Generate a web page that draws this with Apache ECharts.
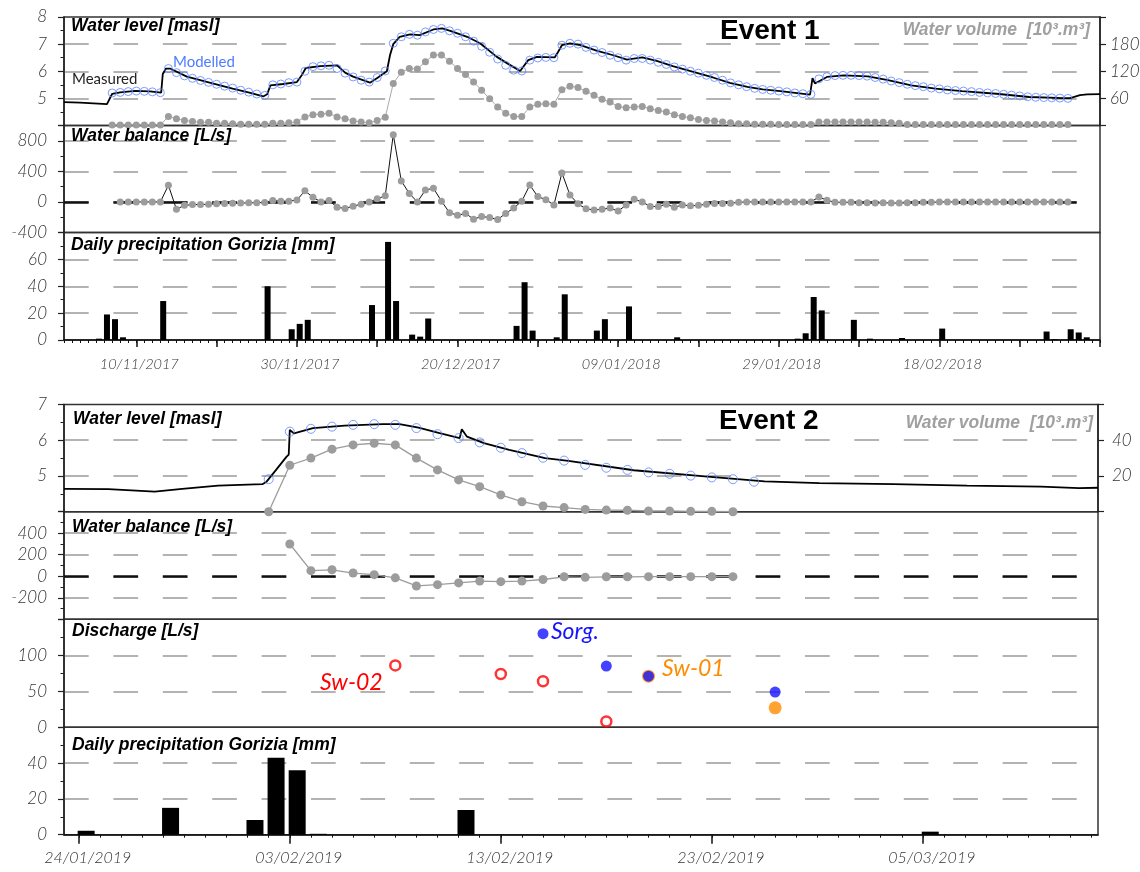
<!DOCTYPE html>
<html>
<head>
<meta charset="utf-8">
<script src="https://cdn.jsdelivr.net/npm/echarts@6/dist/echarts.min.js"></script>
<style>
html,body{margin:0;padding:0;background:#fff;}
#main{width:1140px;height:872px;}
</style>
</head>
<body>
<div id="main"></div>
<script>
// ---------- Event 1 : days counted from 01/11/2017 ----------
var E1_BASE = Date.UTC(2017, 10, 1);
var e1DateLabels = ['10/11/2017', '30/11/2017', '20/12/2017', '09/01/2018', '29/01/2018', '18/02/2018'];

// measured water level (continuous logger)
var e1MeasDay = [0,2,5.35,6.0,7,8.85,10.7,12.1,12.3,12.7,13.2,15.3,18.6,21,23.2,24.8,25.3,25.7,27.3,29,
  29.6,30.1,31.9,34,35,36,38.1,39.1,40.2,40.6,41,41.8,43.1,44.3,46,47.1,48.1,50.2,51.8,53.9,
  55.2,56.8,57.8,58.9,61.1,61.5,62,63,64.3,66.4,68.4,70.1,72,73.8,75.8,78.8,80.8,82.9,85.1,87,
  89.2,92.9,93.2,93.5,95,97.1,100.1,102.6,105.5,108.5,111.8,116.1,120.2,124.4,125.3,126.5,127.4,129];
var e1MeasLevel = [4.86,4.84,4.79,5.17,5.22,5.28,5.26,5.21,5.9,6.1,6.1,5.8,5.54,5.36,5.2,5.07,5.15,5.48,5.53,5.6,
  5.85,6.12,6.19,6.22,5.95,5.8,5.58,5.77,6.0,6.6,7.0,7.27,7.36,7.33,7.54,7.58,7.49,7.27,7.03,6.53,
  6.29,6.01,6.41,6.53,6.51,6.7,6.96,7.03,6.96,6.75,6.59,6.43,6.51,6.38,6.19,5.94,5.77,5.57,5.42,5.33,
  5.27,5.14,5.75,5.55,5.79,5.85,5.81,5.67,5.48,5.36,5.27,5.17,5.05,5.01,5.01,5.12,5.15,5.16];

// modelled level and water volume, daily from day 6
var E1_MODEL_START = 6;
var e1Model = [5.20,5.22,5.25,5.27,5.26,5.24,5.21,6.10,5.95,5.83,
  5.74,5.66,5.59,5.52,5.45,5.38,5.30,5.23,5.16,5.11,
  5.50,5.53,5.58,5.60,6.00,6.17,6.20,6.22,6.10,5.93,
  5.79,5.67,5.60,5.77,6.01,7.03,7.27,7.36,7.33,7.45,
  7.54,7.58,7.49,7.40,7.27,7.11,6.92,6.70,6.45,6.22,
  6.04,6.01,6.41,6.49,6.51,6.50,6.96,7.03,7.00,6.88,
  6.78,6.69,6.59,6.50,6.41,6.47,6.47,6.41,6.33,6.25,
  6.16,6.08,6.00,5.93,5.85,5.77,5.67,5.57,5.50,5.43,
  5.37,5.33,5.30,5.27,5.24,5.20,5.17,5.15,5.72,5.80,
  5.84,5.85,5.85,5.84,5.82,5.77,5.71,5.64,5.58,5.52,
  5.47,5.43,5.38,5.35,5.31,5.29,5.27,5.25,5.22,5.20,
  5.18,5.15,5.12,5.09,5.06,5.04,5.03,5.02,5.01,5.00];
var e1Volume = [1,1,1,1,1,1,1,
  20,15,11,9,7,7,5,5,4,3,3,3,3,5,5,6,8,
  19,24,25,27,19,15,10,8,6,11,18,
  93,118,126,125,141,156,156,142,126,113,96,78,59,41,27,20,20,
  41,47,48,47,79,87,84,76,67,58,52,42,39,41,42,37,33,30,24,20,17,13,11,10,8,6,4,4,3,3,3,
  2,2,2,2,2,
  8,8,8,8,8,8,8,7,7,6,5,
  2,2,2,2,2,2,2,2,2,2,2,2,2,2,2,2,2,2,2,2,2];

// water balance, daily from day 7
var E1_BAL_START = 7;
var e1Balance = [0,0,0,0,0,0,
  218,-96,-45,-35,-35,-30,-25,-22,-18,-15,-12,-10,-8,
  20,10,10,25,145,60,0,20,-70,-85,-55,-30,0,40,80,
  880,275,110,0,155,180,10,-140,-175,-150,-225,-190,-205,-230,-150,-80,10,
  220,70,30,-40,380,90,-25,-90,-105,-95,-80,-120,-40,35,0,-60,-60,-30,-70,-40,-50,-45,-30,-22,-20,-18,-5,
  0,0,0,0,0,0,0,0,0,
  65,22,-5,-5,-5,-10,-10,-15,-10,-15,-15,-10,-10,-5,-5,
  0,0,0,0,0,0,0,0,0,0,0,0,0,0,0,0,0];

// daily precipitation
var e1RainDay = [4,5,6,7,12,25,28,29,30,37,38,40,41,43,44,45,56,57,58,61,62,66,67,70,76,91,92,93,94,98,100,104,109,122,123,125,126,127];
var e1Rain = [1,19,15.5,2,29,40,8,12,15,0.5,26,73,29,4,2.5,16,10.5,43,7,2,34,7,15.5,25,2,1,5,32,22,15,1,1.5,8.5,6.3,0.5,8,5.6,2];

// ---------- Event 2 : days counted from 24/01/2019 ----------
var E2_BASE = Date.UTC(2019, 0, 24);
var e2DateLabels = ['24/01/2019', '03/02/2019', '13/02/2019', '23/02/2019', '05/03/2019'];

var e2MeasDay = [-0.7,1.4,3.6,4.9,6.6,8.7,8.9,9.35,9.85,9.95,10.0,10.2,11.1,12.6,14.4,15.2,16.1,17.1,18.05,18.15,
  18.4,19.2,20.4,22.1,23.2,26.3,29.8,32.5,35.1,38.6,42.1,45.6,47.4,48.3];
var e2MeasLevel = [4.64,4.63,4.56,4.64,4.73,4.77,4.84,5.17,5.54,5.6,6.29,6.19,6.34,6.41,6.45,6.45,6.35,6.2,6.06,6.31,
  6.1,5.92,5.73,5.5,5.42,5.16,4.98,4.85,4.8,4.77,4.73,4.7,4.66,4.67];

var E2_MODEL_START = 9;
var e2Model = [4.91,6.24,6.32,6.38,6.43,6.45,6.43,6.34,6.17,6.06,5.94,5.79,5.64,5.51,5.43,5.31,5.23,5.17,5.1,5.06,5.01,4.96,4.91,4.84];
var e2Volume = [0,26,30,35,37.4,38.3,37.4,30,23.4,17.8,14,9.4,5.6,3.2,2.3,1.3,0.9,0.8,0.4,0.4,0.2,0.2,0];

var E2_BAL_START = 10;
var e2Balance = [300,52,60,30,15,-15,-90,-78,-62,-45,-50,-45,-30,-5,-10,-5,-5,-4,-4,-4,-4,-4];

// discharge measurements
var sorgDay = [22,25,27,33];
var sorgQ = [130,85,71,49];
var sw01Day = [27,33];
var sw01Q = [71,27];
var sw02Day = [15,20,22,25];
var sw02Q = [86,74,64,8];

var e2RainDay = [0,4,8,9,10,11,18,40];
var e2Rain = [2.2,15,8.2,43,36,0.5,13.8,1.7];

// y tick labels
var e1LevelTicks = [5,6,7,8];
var e1VolTicks = [60,120,180];
var e1BalTicks = [-400,0,400,800];
var e1RainTicks = [0,20,40,60];
var e2LevelTicks = [5,6,7];
var e2VolTicks = [20,40];
var e2BalTicks = [-200,0,200,400];
var e2QTicks = [0,50,100];
var e2RainTicks = [0,20,40];

// ---------- helpers ----------
var RAIN_SHIFT = 0.35;   // daily totals drawn a little after midnight
var DASH = [24.7, 24.7];
var AXFONT = 'Lato, "Open Sans", sans-serif';
var TITLEFONT = '"Liberation Sans", Arial, sans-serif';
var TITLE = 'italic bold 17.5px ' + TITLEFONT;

function pad(n){ return n < 10 ? '0' + n : '' + n; }
function dayOf(base, s){
    var p = s.split('/');
    return Math.round((Date.UTC(+p[2], +p[1] - 1, +p[0]) - base) / 864e5);
}
function fmtDate(base, v){
    var t = new Date(base + Math.round(v) * 864e5);
    return pad(t.getUTCDate()) + '/' + pad(t.getUTCMonth() + 1) + '/' + t.getUTCFullYear();
}
function pairs(xs, ys){ return xs.map(function(x, i){ return [x, ys[i]]; }); }
function daily(start, ys){ return ys.map(function(y, i){ return [start + i, y]; }); }
function rainBars(days, vals){ return days.map(function(d, i){ return [d + RAIN_SHIFT, vals[i]]; }); }

function lab(extra){
    var o = {fontFamily: AXFONT, fontStyle: 'italic', fontWeight: 300, fontSize: 17, color: '#333'};
    for (var k in extra) o[k] = extra[k];
    return o;
}
function leftAxis(grid, min, max, step, labels){
    return {
        type: 'value', gridIndex: grid, position: 'left', min: min, max: max, interval: step,
        axisLine: {show: true, onZero: false, lineStyle: {color: '#222', width: 1.5}},
        axisTick: {show: true, length: 6, lineStyle: {color: '#222', width: 1.2}},
        minorTick: {show: true, splitNumber: 2, length: 3.5, lineStyle: {color: '#222', width: 1}},
        axisLabel: lab({margin: 17, formatter: function(v){ return labels.indexOf(v) >= 0 ? String(v) : ''; }}),
        splitLine: {show: true, showMinLine: false, showMaxLine: false, lineStyle: {color: '#9a9a9a', width: 1.5, type: DASH}}
    };
}
function rightAxis(grid, min, max, step, labels, margin){
    return {
        type: 'value', gridIndex: grid, position: 'right', min: min, max: max, interval: step,
        axisLine: {show: true, onZero: false, lineStyle: {color: '#222', width: 1.5}},
        axisTick: {show: true, length: 6, lineStyle: {color: '#222', width: 1.2}},
        axisLabel: lab({margin: margin, formatter: function(v){ return labels.indexOf(v) >= 0 ? String(v) : ''; }}),
        splitLine: {show: false}
    };
}
function hiddenX(grid, min, max){
    return {type: 'value', gridIndex: grid, min: min, max: max, show: false};
}
function dateAxis(grid, min, max, base, major, labelDays, tickLen, margin, size, shift){
    return {
        type: 'value', gridIndex: grid, position: 'bottom', min: min, max: max,
        axisLine: {show: true, onZero: false, lineStyle: {color: '#111', width: 1.5}},
        axisTick: {show: true, customValues: major, length: tickLen, lineStyle: {color: '#111', width: 1.5}},
        axisLabel: lab({customValues: labelDays, fontSize: size, margin: margin, padding: [0, 0, 0, shift],
            formatter: function(v){ return fmtDate(base, v); }}),
        splitLine: {show: false}
    };
}
function dayTicks(grid, min, max, days){
    return {
        type: 'value', gridIndex: grid, position: 'bottom', min: min, max: max,
        axisLine: {show: false},
        axisTick: {show: true, customValues: days, length: 3, lineStyle: {color: '#111', width: 1}},
        axisLabel: {show: false},
        splitLine: {show: false}
    };
}
function zeroLine(){
    return {silent: true, z: 1, symbol: ['none', 'none'], label: {show: false},
        lineStyle: {color: '#111', width: 2.5, type: DASH}, data: [{yAxis: 0}]};
}
function txt(x, y, s, font, fill, align){
    return {type: 'text', x: x, y: y, silent: true, z: 100,
        style: {text: s, font: font, fill: fill, align: align || 'left', textAlign: align || 'left',
            verticalAlign: 'middle', textVerticalAlign: 'middle'}};
}

// ticks on the date axes
var E1_MIN = 0, E1_MAX = 129;
var E2_MIN = -0.7, E2_MAX = 48.3;
var e1LabelDays = e1DateLabels.map(function(s){ return dayOf(E1_BASE, s); });
var e2LabelDays = e2DateLabels.map(function(s){ return dayOf(E2_BASE, s); });
var e1Major = [];
for (var d = e1LabelDays[0]; d <= E1_MAX; d += 10) e1Major.push(d);
var e1Days = [];
for (d = E1_MIN; d <= E1_MAX; d++) e1Days.push(d);
var e2Days = [];
for (d = Math.ceil(E2_MIN); d <= E2_MAX; d++) e2Days.push(d);

var gridBox = [
    [17, 108.5], [125.5, 107], [232.5, 107.5],
    [404.5, 107.2], [511.7, 107.6], [619.3, 108], [727.3, 107.4]
];

var option = {
    animation: false,
    backgroundColor: '#fff',
    grid: gridBox.map(function(g, i){
        return {left: 64, top: g[0], width: i < 3 ? 1036 : 1034, height: g[1],
            show: true, borderColor: '#333', borderWidth: 1.5, backgroundColor: 'transparent',
            containLabel: false, outerBoundsMode: 'none'};
    }),
    xAxis: [
        hiddenX(0, E1_MIN, E1_MAX),
        hiddenX(1, E1_MIN, E1_MAX),
        dateAxis(2, E1_MIN, E1_MAX, E1_BASE, e1Major, e1LabelDays, 7, 17, 14.5, 6),
        dayTicks(2, E1_MIN, E1_MAX, e1Days),
        hiddenX(3, E2_MIN, E2_MAX),
        hiddenX(4, E2_MIN, E2_MAX),
        hiddenX(5, E2_MIN, E2_MAX),
        dateAxis(6, E2_MIN, E2_MAX, E2_BASE, e2LabelDays, e2LabelDays, 9, 15, 16, 18),
        dayTicks(6, E2_MIN, E2_MAX, e2Days)
    ],
    yAxis: [
        leftAxis(0, 4, 8, 1, e1LevelTicks),
        rightAxis(0, 0, 240, 60, e1VolTicks, 10),
        leftAxis(1, -400, 1000, 400, e1BalTicks),
        leftAxis(2, 0, 80, 20, e1RainTicks),
        leftAxis(3, 4, 7, 1, e2LevelTicks),
        rightAxis(3, 0, 60, 20, e2VolTicks, 14),
        leftAxis(4, -400, 600, 200, e2BalTicks),
        leftAxis(5, 0, 150, 50, e2QTicks),
        leftAxis(6, 0, 60, 20, e2RainTicks)
    ],
    series: [
        // ----- Event 1 -----
        {type: 'line', xAxisIndex: 0, yAxisIndex: 1, data: daily(E1_MODEL_START, e1Volume),
            symbol: 'circle', symbolSize: 7, showAllSymbol: true, z: 2,
            itemStyle: {color: '#9c9c9c'}, lineStyle: {color: '#a8a8a8', width: 1}},
        {type: 'line', xAxisIndex: 0, yAxisIndex: 0, data: pairs(e1MeasDay, e1MeasLevel),
            symbol: 'none', z: 3, lineStyle: {color: '#000', width: 1.8}},
        {type: 'scatter', xAxisIndex: 0, yAxisIndex: 0, data: daily(E1_MODEL_START, e1Model),
            symbol: 'circle', symbolSize: 8, z: 4,
            itemStyle: {color: 'rgba(0,0,0,0)', borderColor: '#5a84ff', borderWidth: 1}},
        {type: 'line', xAxisIndex: 1, yAxisIndex: 2, data: daily(E1_BAL_START, e1Balance),
            symbol: 'circle', symbolSize: 7, showAllSymbol: true, z: 3,
            itemStyle: {color: '#9c9c9c'}, lineStyle: {color: '#111', width: 1},
            markLine: zeroLine()},
        {type: 'bar', xAxisIndex: 2, yAxisIndex: 3, data: rainBars(e1RainDay, e1Rain),
            barWidth: 6, itemStyle: {color: '#000'}},
        // ----- Event 2 -----
        {type: 'line', xAxisIndex: 4, yAxisIndex: 5, data: daily(E2_MODEL_START, e2Volume),
            symbol: 'circle', symbolSize: 9, showAllSymbol: true, z: 2,
            itemStyle: {color: '#9c9c9c'}, lineStyle: {color: '#9c9c9c', width: 1.3}},
        {type: 'line', xAxisIndex: 4, yAxisIndex: 4, data: pairs(e2MeasDay, e2MeasLevel),
            symbol: 'none', z: 3, lineStyle: {color: '#000', width: 1.8}},
        {type: 'scatter', xAxisIndex: 4, yAxisIndex: 4, data: daily(E2_MODEL_START, e2Model),
            symbol: 'circle', symbolSize: 9, z: 4,
            itemStyle: {color: 'rgba(0,0,0,0)', borderColor: '#5a84ff', borderWidth: 1}},
        {type: 'line', xAxisIndex: 5, yAxisIndex: 6, data: daily(E2_BAL_START, e2Balance),
            symbol: 'circle', symbolSize: 9, showAllSymbol: true, z: 3,
            itemStyle: {color: '#9c9c9c'}, lineStyle: {color: '#9c9c9c', width: 1.3},
            markLine: zeroLine()},
        {type: 'scatter', xAxisIndex: 6, yAxisIndex: 7, data: pairs(sw01Day, sw01Q),
            symbolSize: 13, z: 3, itemStyle: {color: '#ff8c00'}},
        {type: 'scatter', xAxisIndex: 6, yAxisIndex: 7, data: pairs(sorgDay, sorgQ),
            symbolSize: 11, z: 4, itemStyle: {color: '#1414ff'}},
        {type: 'scatter', xAxisIndex: 6, yAxisIndex: 7, data: pairs(sw02Day, sw02Q),
            symbolSize: 10, z: 4, itemStyle: {color: '#fff', borderColor: '#ff0000', borderWidth: 2.5}},
        {type: 'bar', xAxisIndex: 7, yAxisIndex: 8, data: rainBars(e2RainDay, e2Rain),
            barWidth: 17, itemStyle: {color: '#000'}}
    ],
    graphic: {elements: [
        txt(71, 26, 'Water level [masl]', TITLE, '#000'),
        txt(720, 31, 'Event 1', 'bold 28px ' + TITLEFONT, '#000'),
        txt(1090, 30, 'Water volume  [10³.m³]', TITLE, '#a0a0a0', 'right'),
        txt(72, 79, 'Measured', '15px ' + AXFONT, '#222'),
        txt(173, 62, 'Modelled', '15px ' + AXFONT, '#4f7dff'),
        txt(71, 136, 'Water balance [L/s]', TITLE, '#000'),
        txt(71, 245, 'Daily precipitation Gorizia [mm]', TITLE, '#000'),

        txt(73, 419, 'Water level [masl]', TITLE, '#000'),
        txt(719, 421, 'Event 2', 'bold 28px ' + TITLEFONT, '#000'),
        txt(1093, 423, 'Water volume  [10³.m³]', TITLE, '#a0a0a0', 'right'),
        txt(72, 527, 'Water balance [L/s]', TITLE, '#000'),
        txt(72, 631, 'Discharge [L/s]', TITLE, '#000'),
        txt(72, 745, 'Daily precipitation Gorizia [mm]', TITLE, '#000'),
        txt(551, 632, 'Sorg.', 'italic 23px ' + AXFONT, '#1414ff'),
        txt(662, 669, 'Sw-01', 'italic 23px ' + AXFONT, '#ff8c00'),
        txt(320, 683, 'Sw-02', 'italic 23px ' + AXFONT, '#ff0000')
    ]}
};

var myChart = echarts.init(document.getElementById('main'));
myChart.setOption(option);
</script>
</body>
</html>
